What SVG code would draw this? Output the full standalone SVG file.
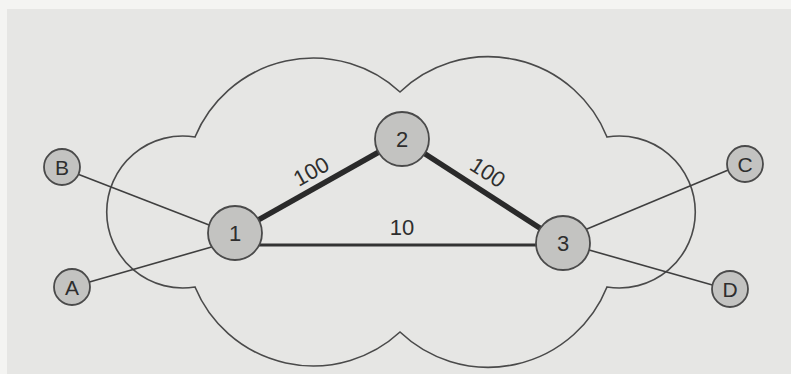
<svg xmlns="http://www.w3.org/2000/svg" width="791" height="374" viewBox="0 0 791 374">
<style>
.bg{fill:#e6e6e4}
.cloud{fill:none;stroke:#4a4a4a;stroke-width:1.6}
.thin{stroke:#3f3f3f;stroke-width:1.6;fill:none}
.mid{stroke:#333;stroke-width:3;fill:none}
.thick{stroke:#2a2a2a;stroke-width:5.5;fill:none}
.big{fill:#c3c3c1;stroke:#4a4a4a;stroke-width:1.8}
.small{fill:#c3c3c1;stroke:#4a4a4a;stroke-width:1.8}
text{font-family:"Liberation Sans",Arial,sans-serif;fill:#2e2e2e;font-size:22px;text-anchor:middle}
.sl{font-size:21px}
</style>
<rect width="791" height="374" fill="#f4f4f2"/>
<rect class="bg" x="7" y="9" width="784" height="365"/>
<path id="cloud" class="cloud" d="M195,137 A128,128 0 0 1 400,92 A128,128 0 0 1 607,137 A76,76 0 1 1 607,287 A128,128 0 0 1 400,332 A128,128 0 0 1 195,287 A76,76 0 1 1 195,137 Z"/>
<g id="connectors">
<line class="thin" x1="62" y1="168" x2="222" y2="230"/>
<line class="thin" x1="72" y1="287" x2="222" y2="244"/>
<line class="thin" x1="745" y1="163" x2="575" y2="234"/>
<line class="thin" x1="730" y1="290" x2="575" y2="246"/>
<line class="mid" x1="258" y1="245" x2="540" y2="245"/>
<line class="thick" x1="235" y1="233" x2="402" y2="139"/>
<line class="thick" x1="402" y1="139" x2="563" y2="243"/>
<text transform="translate(311,171) rotate(-29)" y="8">100</text>
<text transform="translate(488,172) rotate(33)" y="8">100</text>
<text x="402" y="235">10</text>
</g>
<g id="n1"><circle class="big" cx="235" cy="233" r="27"/><text x="235" y="241">1</text></g>
<g id="n2"><circle class="big" cx="402" cy="139" r="27"/><text x="402" y="147">2</text></g>
<g id="n3"><circle class="big" cx="563" cy="243" r="27"/><text x="563" y="251">3</text></g>
<g id="nB"><circle class="small" cx="62" cy="167" r="18"/><text class="sl" x="62" y="175">B</text></g>
<g id="nA"><circle class="small" cx="72" cy="287" r="18"/><text class="sl" x="72" y="295">A</text></g>
<g id="nC"><circle class="small" cx="745" cy="164" r="18"/><text class="sl" x="745" y="172">C</text></g>
<g id="nD"><circle class="small" cx="730" cy="289" r="18"/><text class="sl" x="730" y="297">D</text></g>
</svg>
